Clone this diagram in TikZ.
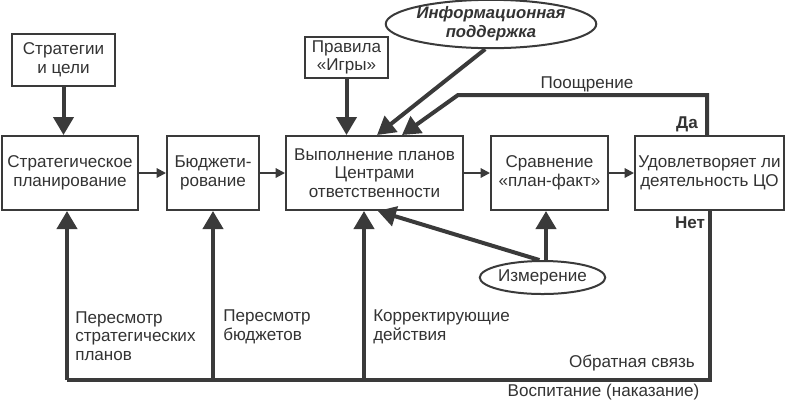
\documentclass[tikz,border=0pt]{standalone}
\usepackage{fontspec}
\setmainfont{Liberation Sans}
\usetikzlibrary{arrows.meta,shapes.geometric}
\newdimen\pxu \pxu=0.75pt
\definecolor{ink}{HTML}{3A3A3A}
\definecolor{txt}{HTML}{333333}
\begin{document}
\begin{tikzpicture}[x=0.75pt,y=-0.75pt,
  every node/.style={text=txt,font=\fontsize{12.8}{14}\selectfont},
  box/.style={draw=ink,line width=1.5pt,rectangle,align=center,inner sep=0pt},
  oval/.style={draw=ink,line width=1.5pt,ellipse,align=center,inner sep=0pt},
  bigarr/.style={draw=ink,line width=3pt,-{Triangle[width=15pt,length=13.5pt]}},
  thinarr/.style={draw=ink,line width=1.5pt,-{Triangle[width=7pt,length=7pt]}},
  thickline/.style={draw=ink,line width=3pt},
  lbl/.style={inner sep=0pt,align=left},
  bold/.style={font=\fontsize{12.8}{14}\selectfont\bfseries}
]
\useasboundingbox (0,0) rectangle (787,412);
\fill[white] (0,0) rectangle (787,412);

\node[box,minimum width=103\pxu,minimum height=52\pxu] (s1) at (63.5,60) {Стратегии\\и цели};
\node[box,minimum width=83\pxu,minimum height=41\pxu] (pr) at (346.5,57.5) {Правила\\«Игры»};
\node[box,minimum width=136\pxu,minimum height=74\pxu] (sp) at (70,173) {Стратегическое\\планирование};
\node[box,minimum width=92\pxu,minimum height=74\pxu] (bj) at (213,173) {Бюджети-\\рование};
\node[box,minimum width=177\pxu,minimum height=74\pxu] (vp) at (374.5,173) {Выполнение планов\\Центрами\\ответственности};
\node[box,minimum width=117\pxu,minimum height=74\pxu] (sr) at (549.5,173) {Сравнение\\«план-факт»};
\node[box,minimum width=149\pxu,minimum height=74\pxu] (ud) at (709.5,173) {Удовлетворяет ли\\деятельность ЦО};
\node[oval,minimum width=182\pxu,minimum height=46\pxu,font=\fontsize{12.5}{14}\selectfont\bfseries\itshape] (info) at (491,24) {Информационная\\поддержка};
\node[oval,minimum width=121\pxu,minimum height=33\pxu] (izm) at (542.5,277.5) {Измерение};

% horizontal flow
\draw[thinarr] (sp) -- (bj);
\draw[thinarr] (bj) -- (vp);
\draw[thinarr] (vp) -- (sr);
\draw[thinarr] (sr) -- (ud);

% inputs
\draw[bigarr] (s1.south) -- (s1.south |- sp.north);
\draw[bigarr] (pr.south) -- (pr.south |- vp.north);
\draw[bigarr] (info.257) -- ([xshift=1.9pt]vp.north);
\coordinate (pt) at (707,95);
\coordinate (pl) at (458,95);
\draw[bigarr] (ud.north -| pt) -- (pt) -- (pl) -- ([xshift=20.6pt]vp.north);
\draw[bigarr] (izm.north -| 546,0) -- (sr.south -| 546,0);
\draw[bigarr] (izm.100) -- ([xshift=2.5pt]vp.south);

% feedback loop
\coordinate (br) at (710,380);
\coordinate (c1) at (67,380);
\coordinate (c2) at (213,380);
\coordinate (c3) at (364,380);
\draw[thickline] (ud.south -| br) -- (br) -- (c1);
\draw[bigarr] (c1) -- (c1 |- sp.south);
\draw[bigarr] (c2) -- (c2 |- bj.south);
\draw[bigarr] (c3) -- (c3 |- vp.south);

% labels
\node[lbl] (t1) at (587,84) {Поощрение};
\node[lbl,bold] (t2) at (687,124) {Да};
\node[lbl,bold] (t3) at (690,223) {Нет};
\node[lbl,anchor=west] (t4) at (75,336) {Пересмотр\\стратегических\\планов};
\node[lbl,anchor=west] (t5) at (223,326.5) {Пересмотр\\бюджетов};
\node[lbl,anchor=west] (t6) at (373,326.5) {Корректирующие\\действия};
\node[lbl,anchor=east] (t7) at (695,363) {Обратная связь};
\node[lbl] (t8) at (603.5,392) {Воспитание (наказание)};
\end{tikzpicture}
\end{document}
